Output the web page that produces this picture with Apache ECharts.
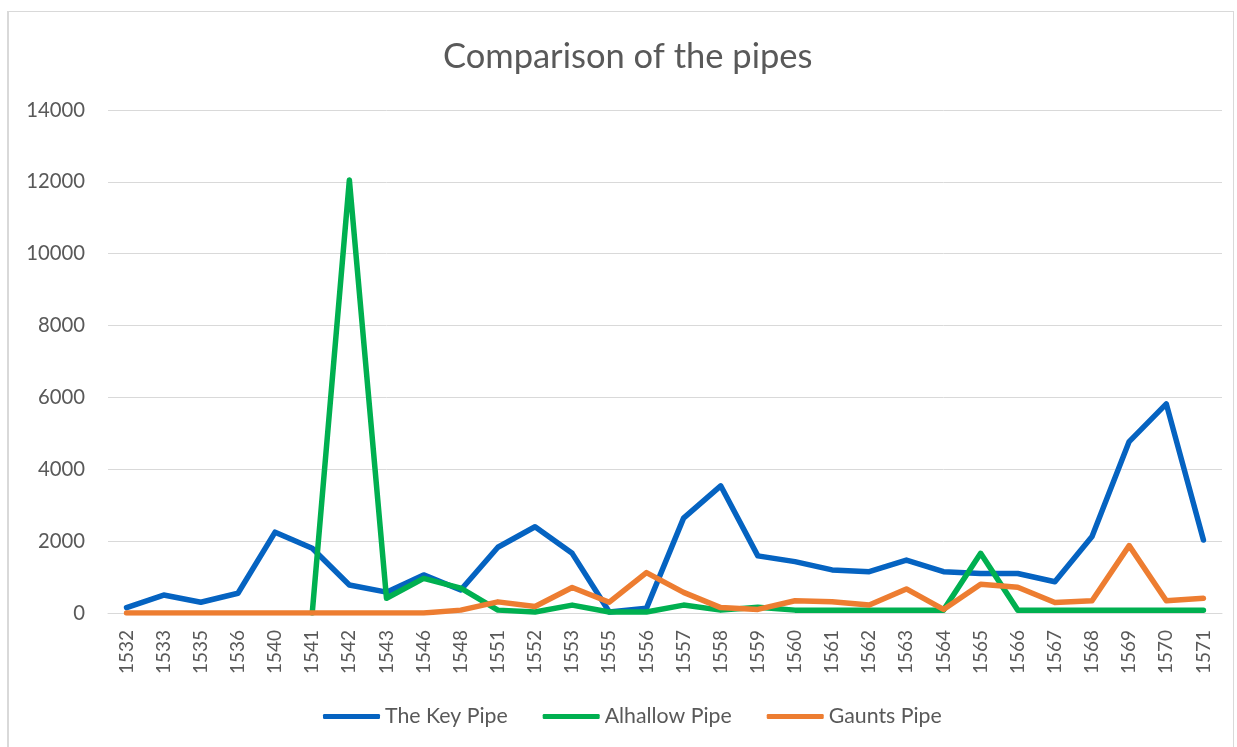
<!DOCTYPE html>
<html>
<head>
<meta charset="utf-8">
<script src="https://cdn.jsdelivr.net/npm/echarts@6/dist/echarts.min.js"></script>
<style>
  html, body { margin: 0; padding: 0; background: #fff; overflow: hidden; }
  #frame { position: absolute; left: 7px; top: 11px; width: 1227px; height: 740px; border: 1px solid #d9d9d9; border-left-width: 2px; box-sizing: border-box; }
  #chart { width: 1237px; height: 747px; position: absolute; left: 0; top: 0; }
</style>
</head>
<body>
<div id="frame"></div>
<div id="chart"></div>
<script>
const years = ['1532','1533','1535','1536','1540','1541','1542','1543','1546','1548',
  '1551','1552','1553','1555','1556','1557','1558','1559','1560','1561',
  '1562','1563','1564','1565','1566','1567','1568','1569','1570','1571'];

const keyPipe = [150, 500, 300, 550, 2250, 1800, 780, 580, 1060, 640,
  1830, 2400, 1660, 30, 130, 2640, 3540, 1590, 1430, 1200,
  1150, 1475, 1150, 1100, 1100, 870, 2130, 4770, 5820, 2030];

const alhallowPipe = [null, null, null, null, null, 0, 12050, 410, 965, 690,
  80, 30, 220, 30, 30, 220, 80, 160, 80, 80,
  80, 80, 80, 1660, 80, 80, 80, 80, 80, 80];

const gauntsPipe = [0, 0, 0, 0, 0, 0, 0, 0, 0, 80,
  310, 180, 710, 300, 1125, 575, 150, 100, 340, 315,
  220, 670, 100, 800, 715, 290, 340, 1875, 340, 410];

const yTicks = { min: 0, max: 14000, interval: 2000 };

const textColor = '#595959';
const fontFamily = 'Lato, "Open Sans", sans-serif';

const chart = echarts.init(document.getElementById('chart'));

const lineSeries = (name, data, color) => ({
  name,
  type: 'line',
  data,
  symbol: 'none',
  lineStyle: { width: 5.5, color, cap: 'round', join: 'round' },
  itemStyle: { color },
  connectNulls: false,
  animation: false
});

chart.setOption({
  backgroundColor: 'transparent',
  title: {
    text: 'Comparison of the pipes',
    left: 443,
    top: 39,
    padding: 0,
    textStyle: { color: textColor, fontSize: 34.5, fontWeight: 'normal', fontFamily }
  },
  legend: {
    bottom: 20,
    left: 323,
    padding: 0,
    itemWidth: 57,
    itemHeight: 5,
    itemGap: 35,
    icon: 'roundRect',
    textStyle: { color: textColor, fontSize: 21.3, fontFamily }
  },
  grid: { left: 108, right: 15, top: 110, bottom: 134 },
  xAxis: {
    type: 'category',
    data: years,
    boundaryGap: true,
    axisLine: { lineStyle: { color: '#d9d9d9', width: 1 } },
    axisTick: { show: false },
    axisLabel: { color: textColor, fontSize: 19, rotate: 90, margin: 17, fontFamily, interval: 0 }
  },
  yAxis: {
    type: 'value',
    min: yTicks.min,
    max: yTicks.max,
    interval: yTicks.interval,
    axisLine: { show: false },
    axisTick: { show: false },
    axisLabel: { color: textColor, fontSize: 20.3, margin: 23, fontFamily, formatter: v => String(v) },
    splitLine: { lineStyle: { color: '#d9d9d9', width: 1 } }
  },
  series: [
    lineSeries('The Key Pipe', keyPipe, '#0563C1'),
    lineSeries('Alhallow Pipe', alhallowPipe, '#00B050'),
    lineSeries('Gaunts Pipe', gauntsPipe, '#ED7D31')
  ]
});
</script>
</body>
</html>
